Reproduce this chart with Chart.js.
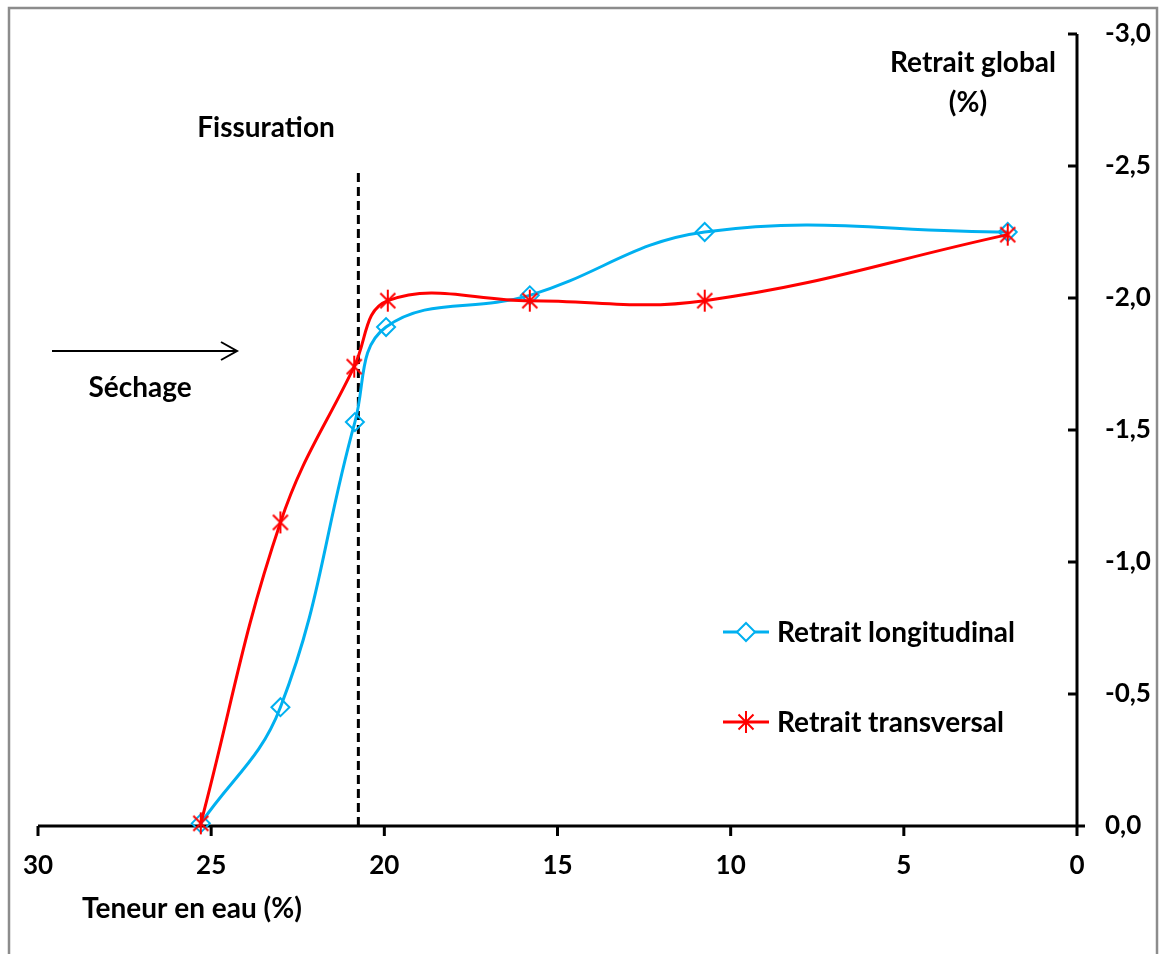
<!DOCTYPE html>
<html><head><meta charset="utf-8">
<script src="https://cdn.jsdelivr.net/npm/chart.js@4/dist/chart.umd.min.js"></script>
<style>html,body{margin:0;padding:0;background:#fff;} #wrap{width:1166px;height:954px;position:relative;}</style>
</head><body><div id="wrap"><canvas id="c" width="1166" height="954"></canvas></div>
<script>
// ---- data ----
const seriesNames = ['Retrait longitudinal', 'Retrait transversal'];
const waterLong = [25.3, 23.0, 20.85, 19.95, 15.8, 10.75, 2.0];
const shrinkLong = [-0.01, -0.45, -1.53, -1.89, -2.01, -2.25, -2.25];
const waterTrans = [25.3, 23.0, 20.87, 19.9, 15.8, 10.75, 2.0];
const shrinkTrans = [-0.01, -1.15, -1.74, -1.99, -1.99, -1.99, -2.24];
const crackWater = [20.75, 20.75];
const crackShrink = [0, -2.49];
const xTickLabels = ['0', '5', '10', '15', '20', '25', '30'];
const yTickLabels = ['-3,0', '-2,5', '-2,0', '-1,5', '-1,0', '-0,5', '0,0'];
const xTickValues = [0, 5, 10, 15, 20, 25, 30];
const yTickValues = [-3, -2.5, -2, -1.5, -1, -0.5, 0];

const FONT = 'Lato';
const font = {family: FONT, weight: 'bold', size: 26};
const LABEL_FONT = 'bold 28px ' + FONT;
const BLUE = '#00B0F0', RED = '#FF0000';

function makeStar(color) {
  const c = document.createElement('canvas');
  c.width = 24; c.height = 24;
  const g = c.getContext('2d');
  g.strokeStyle = color; g.lineWidth = 2; g.lineCap = 'butt';
  g.beginPath();
  g.moveTo(12, 1); g.lineTo(12, 23);
  g.moveTo(4.5, 4.5); g.lineTo(19.5, 19.5);
  g.moveTo(19.5, 4.5); g.lineTo(4.5, 19.5);
  g.stroke();
  return c;
}
const star = makeStar(RED);

const pts = (xs, ys) => xs.map((x, i) => ({x, y: ys[i]}));

const decor = {
  id: 'decor',
  beforeDraw(chart) {
    const ctx = chart.ctx;
    ctx.save();
    ctx.fillStyle = '#fff';
    ctx.fillRect(0, 0, chart.width, chart.height);
    ctx.strokeStyle = '#8c8c8c';
    ctx.lineWidth = 2.5;
    ctx.strokeRect(9, 8, 1148, 980);
    ctx.restore();
  },
  beforeDatasetsDraw(chart) {
    const ctx = chart.ctx, xs = chart.scales.x, ys = chart.scales.y;
    const y0 = ys.getPixelForValue(0), x0 = xs.getPixelForValue(0);
    const yTop = ys.getPixelForValue(-3), xLeft = xs.getPixelForValue(30);
    ctx.save();
    ctx.strokeStyle = '#000';
    ctx.lineWidth = 3;
    ctx.beginPath();
    ctx.moveTo(xLeft, y0); ctx.lineTo(x0 + 8, y0);
    ctx.moveTo(x0, yTop); ctx.lineTo(x0, y0 + 9);
    xTickValues.forEach(v => { const p = xs.getPixelForValue(v); ctx.moveTo(p, y0); ctx.lineTo(p, y0 + 10); });
    yTickValues.forEach(v => { const p = ys.getPixelForValue(v); ctx.moveTo(x0, p); ctx.lineTo(x0 - 9, p); });
    ctx.stroke();
    ctx.restore();
  },
  afterDraw(chart) {
    const ctx = chart.ctx;
    ctx.save();
    ctx.fillStyle = '#000';
    ctx.font = LABEL_FONT;
    ctx.textBaseline = 'alphabetic';
    ctx.textAlign = 'center';
    ctx.fillText('Fissuration', 266, 137);
    ctx.fillText('Retrait global', 973, 72);
    ctx.fillText('(%)', 968, 112);
    ctx.fillText('Séchage', 140, 397);
    ctx.fillText('Teneur en eau (%)', 192, 918);
    // arrow
    ctx.strokeStyle = '#000'; ctx.lineWidth = 2;
    ctx.beginPath();
    ctx.moveTo(52, 351); ctx.lineTo(237, 351);
    ctx.moveTo(221, 342); ctx.lineTo(237, 351); ctx.lineTo(221, 360);
    ctx.stroke();
    // legend
    const rows = [632, 722];
    chart.data.datasets.slice(0, 2).forEach((ds, i) => {
      const y = rows[i];
      ctx.strokeStyle = ds.borderColor; ctx.lineWidth = 3;
      ctx.beginPath(); ctx.moveTo(723, y); ctx.lineTo(769, y); ctx.stroke();
      if (typeof ds.pointStyle === 'string') {
        ctx.fillStyle = '#fff'; ctx.strokeStyle = ds.pointBorderColor; ctx.lineWidth = ds.pointBorderWidth;
        ctx.beginPath();
        ctx.moveTo(746 - 9, y); ctx.lineTo(746, y - 9); ctx.lineTo(746 + 9, y); ctx.lineTo(746, y + 9); ctx.closePath();
        ctx.fill(); ctx.stroke();
      } else {
        ctx.drawImage(ds.pointStyle, 746 - 12, y - 12);
      }
      ctx.fillStyle = '#000'; ctx.textAlign = 'left';
      ctx.fillText(ds.label, 777, y + 10);
    });
    ctx.restore();
  }
};

new Chart(document.getElementById('c'), {
  type: 'scatter',
  data: {
    datasets: [
      {label: seriesNames[0], data: pts(waterLong, shrinkLong), showLine: true, borderColor: BLUE, borderWidth: 3,
       tension: 0.4, pointStyle: 'rectRot', pointRadius: 9, pointBorderWidth: 2, pointBackgroundColor: 'rgba(255,255,255,0)',
       pointBorderColor: BLUE, clip: false, order: 2},
      {label: seriesNames[1], data: pts(waterTrans, shrinkTrans), showLine: true, borderColor: RED, borderWidth: 3,
       tension: 0.4, pointStyle: star, pointRadius: 10, pointBorderColor: RED, clip: false, order: 1},
      {label: 'crack', data: pts(crackWater, crackShrink), showLine: true, borderColor: '#000', borderWidth: 3,
       borderDash: [9, 5], pointRadius: 0, clip: false, order: 3}
    ]
  },
  options: {
    responsive: false, animation: false, events: [],
    layout: {padding: {left: 38, top: 34, right: 0, bottom: 0}},
    plugins: {legend: {display: false}, tooltip: {enabled: false}},
    scales: {
      x: {type: 'linear', reverse: true, min: 0, max: 30, position: 'bottom',
          afterFit(s) { s.height = 128; s.paddingLeft = 0; s.paddingRight = 0; },
          afterBuildTicks(s) { s.ticks = xTickValues.map(v => ({value: v})); },
          grid: {display: false, drawTicks: false}, border: {display: false},
          ticks: {font, color: '#000', padding: 24, maxRotation: 0,
                  callback: (v) => xTickLabels[xTickValues.indexOf(v)]}},
      y: {type: 'linear', reverse: true, min: -3, max: 0, position: 'right',
          afterFit(s) { s.width = 89; s.paddingTop = 0; s.paddingBottom = 0; },
          afterBuildTicks(s) { s.ticks = yTickValues.map(v => ({value: v})); },
          grid: {display: false, drawTicks: false}, border: {display: false},
          ticks: {font, color: '#000', padding: 28,
                  callback: (v) => yTickLabels[yTickValues.indexOf(v)]}}
    }
  },
  plugins: [decor]
});
</script></body></html>
